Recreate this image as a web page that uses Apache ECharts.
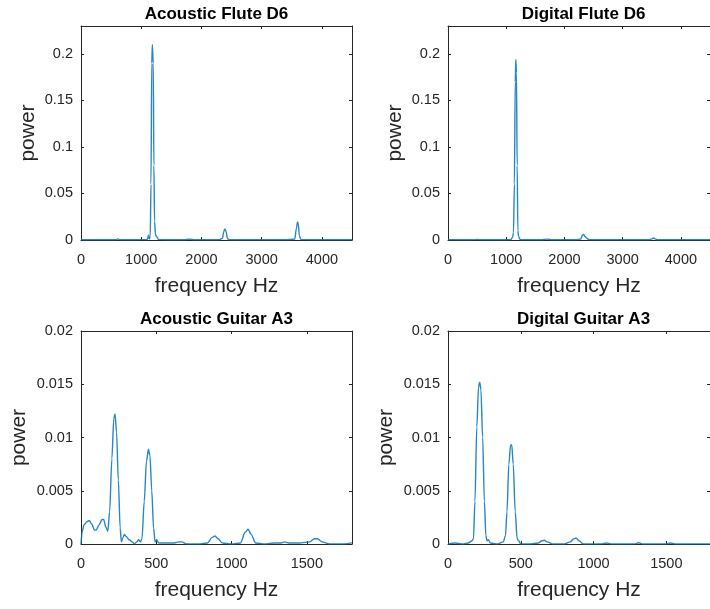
<!DOCTYPE html>
<html>
<head>
<meta charset="utf-8">
<script src="https://cdn.jsdelivr.net/npm/echarts@6/dist/echarts.min.js"></script>
<style>
  html, body { margin: 0; padding: 0; background: #fff; }
  #chart { width: 710px; height: 609px; }
</style>
</head>
<body>
<div id="chart"></div>
<script>
// Power spectra, [frequency Hz, power] pairs
const acousticFlute = [
  [0,0.0003],[150,0.0002],[300,0.0003],[450,0.0002],[580,0.0003],[615,0.0012],[650,0.0003],
  [800,0.0002],[950,0.0003],[1080,0.0004],[1105,0.0008],[1120,0.0055],[1135,0.001],[1150,0.004],
  [1162,0.06],[1175,0.19],[1185,0.21],[1192,0.21],[1200,0.19],[1210,0.08],[1222,0.02],[1235,0.006],
  [1250,0.004],[1265,0.003],[1285,0.0005],[1400,0.0003],[1550,0.0002],[1700,0.0003],[1800,0.0008],
  [1900,0.0003],[2100,0.0002],[2300,0.0003],[2350,0.002],[2370,0.009],[2390,0.012],[2410,0.009],
  [2430,0.002],[2450,0.0003],[2600,0.0002],[2800,0.0003],[3000,0.0002],[3200,0.0003],[3400,0.0002],
  [3550,0.001],[3575,0.012],[3595,0.0195],[3610,0.017],[3625,0.005],[3650,0.0005],[3800,0.0002],
  [4000,0.0003],[4200,0.0002],[4350,0.0003],[4500,0.0002]
];
const digitalFlute = [
  [0,0.0002],[200,0.0003],[400,0.0002],[500,0.0006],[600,0.0002],[800,0.0003],[1000,0.0002],
  [1080,0.0005],[1110,0.003],[1125,0.008],[1140,0.06],[1155,0.17],[1165,0.194],[1175,0.18],
  [1188,0.08],[1200,0.01],[1212,0.004],[1230,0.001],[1260,0.0003],[1400,0.0002],[1600,0.0003],
  [1700,0.0009],[1800,0.0002],[2000,0.0003],[2200,0.0002],[2280,0.001],[2310,0.0055],[2330,0.006],
  [2350,0.004],[2380,0.002],[2420,0.0004],[2600,0.0002],[2800,0.0003],[3000,0.0002],[3200,0.0003],
  [3450,0.0002],[3500,0.0012],[3530,0.0022],[3560,0.0012],[3600,0.0002],[3800,0.0003],[4000,0.0002],
  [4200,0.0003],[4500,0.0002]
];
const acousticGuitar = [
  [0,0],[8,0.0012],[20,0.0018],[40,0.0021],[55,0.0022],[70,0.0019],[90,0.0013],[100,0.0013],
  [120,0.0018],[140,0.0023],[150,0.0023],[165,0.0016],[178,0.0012],[190,0.003],[205,0.008],
  [218,0.0118],[226,0.0122],[236,0.0105],[248,0.006],[260,0.0015],[268,0.0002],[278,0.0006],
  [289,0.0009],[300,0.0007],[320,0.0004],[340,0.0002],[355,0],[370,0.0002],[382,0.0004],[395,0.0002],
  [405,0.0005],[420,0.004],[435,0.0078],[448,0.0089],[458,0.0083],[470,0.005],[482,0.0015],
  [492,0.0002],[503,0.0004],[515,0.0001],[560,0.0001],[620,0.0001],[650,0.0002],[670,0.0002],
  [700,0],[780,0],[840,0.0001],[870,0.0006],[890,0.00075],[910,0.0005],[940,0.0001],[1000,0],
  [1060,0.0001],[1090,0.0011],[1110,0.00138],[1130,0.0009],[1160,0.0001],[1220,0],[1280,0.0001],
  [1330,0.0001],[1350,0.0002],[1380,0.0001],[1450,0.0001],[1520,0.0002],[1550,0.0005],[1570,0.0005],
  [1600,0.0002],[1650,0],[1750,0],[1800,0.0001]
];
const digitalGuitar = [
  [0,0],[50,0.0001],[100,0],[140,0.0001],[165,0.0003],[175,0.0005],[185,0.004],[198,0.011],
  [210,0.0148],[218,0.0152],[226,0.0145],[238,0.01],[250,0.004],[260,0.0008],[268,0.0003],
  [278,0.0004],[290,0.0001],[340,0],[380,0.0002],[395,0.0008],[405,0.003],[418,0.0075],[430,0.0093],
  [438,0.0093],[448,0.0075],[462,0.003],[475,0.0005],[485,0.0003],[500,0],[560,0],[620,0.0001],
  [645,0.0003],[662,0.00035],[680,0.0002],[720,0],[800,0],[840,0.0002],[865,0.0005],[880,0.00056],
  [900,0.0003],[930,0],[1050,0],[1090,0.0001],[1120,0],[1280,0],[1310,0.00012],[1340,0],[1500,0],
  [1530,0.0001],[1560,0],[1800,0]
];

const panelTitles = ['Acoustic Flute D6', 'Digital Flute D6', 'Acoustic Guitar A3', 'Digital Guitar A3'];
const panelSeries = [acousticFlute, digitalFlute, acousticGuitar, digitalGuitar];
const xRanges = [[0, 4500, 1000], [0, 4500, 1000], [0, 1800, 500], [0, 1800, 500]];
const yRanges = [[0, 0.23, 0.05], [0, 0.23, 0.05], [0, 0.02, 0.005], [0, 0.02, 0.005]];
const xLabel = 'frequency Hz';
const yLabel = 'power';

const grids = [
  { left: 81,  top: 26,  width: 271, height: 214 },
  { left: 448, top: 26,  width: 271, height: 214 },
  { left: 81,  top: 331, width: 271, height: 213 },
  { left: 448, top: 331, width: 271, height: 213 }
];
// distance of the rotated "power" label from the left axis (wider tick labels on the lower row)
const yNameGaps = [42, 42, 51, 51];

const AXIS_COLOR = '#262626';
const FONT = 'Liberation Sans, Arial, sans-serif';

const option = {
  animation: false,
  backgroundColor: '#ffffff',
  title: [],
  grid: [],
  xAxis: [],
  yAxis: [],
  series: []
};

grids.forEach((g, i) => {
  option.grid.push(Object.assign({ containLabel: false, show: false }, g));
  option.title.push({
    text: panelTitles[i],
    left: g.left + g.width / 2,
    top: g.top - 20,
    padding: 0,
    textAlign: 'center',
    textStyle: { fontFamily: FONT, fontSize: 17, fontWeight: 'bold', color: '#000' }
  });
  const [xmin, xmax, xint] = xRanges[i];
  const [ymin, ymax, yint] = yRanges[i];
  const hideMaxY = Math.abs(ymax / yint - Math.round(ymax / yint)) > 1e-6;
  const hideMaxX = Math.abs(xmax / xint - Math.round(xmax / xint)) > 1e-6;
  const lineStyle = { color: AXIS_COLOR, width: 1 };
  const tick = { show: true, inside: true, length: 3, lineStyle: lineStyle };
  // bottom and left axes carry the labels
  option.xAxis.push({
    type: 'value', gridIndex: i, position: 'bottom', min: xmin, max: xmax, interval: xint,
    axisLine: { show: true, onZero: false, lineStyle: lineStyle },
    axisTick: tick, splitLine: { show: false },
    axisLabel: {
      show: true, color: AXIS_COLOR, fontFamily: FONT, fontSize: 14.5, margin: 12,
      showMaxLabel: !hideMaxX, formatter: v => String(v)
    },
    name: xLabel, nameLocation: 'middle', nameGap: 36,
    nameTextStyle: { fontFamily: FONT, fontSize: 21, color: AXIS_COLOR }
  });
  option.yAxis.push({
    type: 'value', gridIndex: i, position: 'left', min: ymin, max: ymax, interval: yint,
    axisLine: { show: true, onZero: false, lineStyle: lineStyle },
    axisTick: tick, splitLine: { show: false },
    axisLabel: {
      show: true, color: AXIS_COLOR, fontFamily: FONT, fontSize: 14.5, margin: 8,
      showMaxLabel: !hideMaxY
    },
    name: yLabel, nameLocation: 'middle', nameGap: yNameGaps[i],
    nameTextStyle: { fontFamily: FONT, fontSize: 21, color: AXIS_COLOR }
  });
  // top and right axes close the box
  option.xAxis.push({
    type: 'value', gridIndex: i, position: 'top', min: xmin, max: xmax, interval: xint,
    axisLine: { show: true, onZero: false, lineStyle: lineStyle },
    axisTick: tick, axisLabel: { show: false }, splitLine: { show: false }
  });
  option.yAxis.push({
    type: 'value', gridIndex: i, position: 'right', min: ymin, max: ymax, interval: yint,
    axisLine: { show: true, onZero: false, lineStyle: lineStyle },
    axisTick: tick, axisLabel: { show: false }, splitLine: { show: false }
  });
  option.series.push({
    type: 'line',
    xAxisIndex: i * 2,
    yAxisIndex: i * 2,
    data: panelSeries[i],
    showSymbol: false,
    smooth: 0.3,
    smoothMonotone: 'x',
    clip: true,
    lineStyle: { color: '#0072BD', width: 1.4, opacity: 0.85 },
    itemStyle: { color: '#0072BD' }
  });
});

const chart = echarts.init(document.getElementById('chart'), null, { renderer: 'canvas' });
chart.setOption(option);
</script>
</body>
</html>
